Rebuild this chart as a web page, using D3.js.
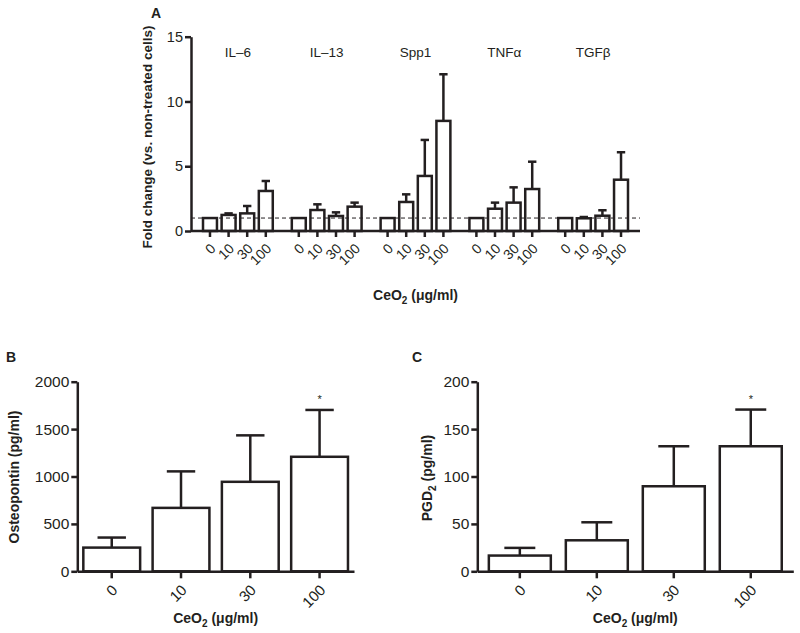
<!DOCTYPE html>
<html>
<head>
<meta charset="utf-8">
<script src="https://cdn.jsdelivr.net/npm/d3@7"></script>
<style>
  html, body { margin: 0; padding: 0; background: #fff; }
  svg { display: block; }
  text { font-family: "Liberation Sans", Arial, Helvetica, sans-serif; fill: #231f20; }
</style>
</head>
<body>
<svg id="chart" width="800" height="633"></svg>
<script>
// ---------------- DATA ----------------
const genes = ["IL\u20136", "IL\u201313", "Spp1", "TNF\u03b1", "TGF\u03b2"];
const doses = ["0", "10", "30", "100"];
// fold change means, one row per gene (doses 0,10,30,100)
const foldIL6  = [1.00, 1.24, 1.36, 3.09];
const foldIL13 = [1.00, 1.62, 1.16, 1.88];
const foldSpp1 = [1.00, 2.24, 4.25, 8.50];
const foldTNFa = [1.00, 1.72, 2.19, 3.24];
const foldTGFb = [1.00, 0.98, 1.18, 3.96];
// upward error (SD) for fold change
const errIL6  = [0, 0.12, 0.57, 0.77];
const errIL13 = [0, 0.44, 0.28, 0.31];
const errSpp1 = [0, 0.59, 2.78, 3.60];
const errTNFa = [0, 0.47, 1.18, 2.11];
const errTGFb = [0, 0.10, 0.42, 2.12];
const foldTicks = [0, 5, 10, 15];
const baselineFold = 1;

// Panel B: osteopontin (pg/ml)
const osteoMean = [250, 669, 944, 1208];
const osteoErr  = [106, 385, 490, 494];
const osteoTicks = [0, 500, 1000, 1500, 2000];
const osteoSig = [false, false, false, true];

// Panel C: PGD2 (pg/ml)
const pgdMean = [16.6, 32.7, 89.7, 131.9];
const pgdErr  = [8.1, 19.0, 42.2, 38.7];
const pgdTicks = [0, 50, 100, 150, 200];
const pgdSig = [false, false, false, true];

const foldMeans = [foldIL6, foldIL13, foldSpp1, foldTNFa, foldTGFb];
const foldErrs  = [errIL6, errIL13, errSpp1, errTNFa, errTGFb];

// ---------------- DRAW ----------------
const ink = "#231f20";
const svg = d3.select("#chart");
svg.append("rect").attr("width", 800).attr("height", 633).attr("fill", "#fff");

function styleAxis(g, fs) {
  g.selectAll(".domain").attr("stroke", ink).attr("stroke-width", 2.5);
  g.selectAll(".tick line").attr("stroke", ink).attr("stroke-width", 2.5);
  g.selectAll(".tick text").attr("fill", ink).style("font-size", (fs || 14) + "px")
    .style("font-family", '"Liberation Sans", Arial, sans-serif');
}

function ceoLabel(g, x, y) {
  const t = g.append("text").attr("x", x).attr("y", y)
    .attr("text-anchor", "middle").style("font-size", "14px").style("font-weight", "bold");
  t.append("tspan").text("CeO");
  t.append("tspan").text("2").style("font-size", "10px").attr("dy", 4);
  t.append("tspan").text(" (\u03bcg/ml)").attr("dy", -4);
}

function rotatedTicks(g, centers, labels, yTop, fs) {
  g.selectAll("text.xt").data(labels).join("text").attr("class", "xt")
    .attr("transform", (d, i) => `translate(${centers[i] + 3},${yTop}) rotate(-45)`)
    .attr("text-anchor", "end").attr("dy", "0.35em")
    .style("font-size", fs + "px").text(d => d);
}

// ===== Panel A =====
{
  const g = svg.append("g");
  const x0 = 191, x1 = 640;
  const y = d3.scaleLinear().domain([0, 15]).range([231, 36.7]);
  const outer = d3.scaleBand().domain(genes).range([x0, x1]).paddingInner(0.162).paddingOuter(0.109);
  const inner = d3.scaleBand().domain(doses).range([0, outer.bandwidth()]).paddingInner(0.25).paddingOuter(0.125);

  const items = [];
  genes.forEach((gn, gi) => doses.forEach((ds, di) => {
    items.push({ gene: gn, dose: ds, mean: foldMeans[gi][di], err: foldErrs[gi][di],
      x: outer(gn) + inner(ds), cx: outer(gn) + inner(ds) + inner.bandwidth() / 2 });
  }));
  const bw = inner.bandwidth();

  const eb = items.filter(d => d.err > 0);
  g.selectAll("line.ev").data(eb).join("line")
    .attr("x1", d => d.cx).attr("x2", d => d.cx)
    .attr("y1", d => y(d.mean)).attr("y2", d => y(d.mean + d.err))
    .attr("stroke", ink).attr("stroke-width", 2.5);
  g.selectAll("line.ec").data(eb).join("line")
    .attr("x1", d => d.cx - bw * 0.3).attr("x2", d => d.cx + bw * 0.3)
    .attr("y1", d => y(d.mean + d.err)).attr("y2", d => y(d.mean + d.err))
    .attr("stroke", ink).attr("stroke-width", 2.5);

  g.selectAll("rect.bar").data(items).join("rect")
    .attr("x", d => d.x).attr("width", bw)
    .attr("y", d => y(d.mean)).attr("height", d => y(0) - y(d.mean))
    .attr("fill", "#fff").attr("stroke", ink).attr("stroke-width", 2.5);

  g.append("line").attr("x1", x0).attr("x2", x1).attr("y1", y(baselineFold)).attr("y2", y(baselineFold))
    .attr("stroke", ink).attr("stroke-width", 1).attr("stroke-dasharray", "4,3");

  const ya = g.append("g").attr("transform", `translate(${x0},0)`)
    .call(d3.axisLeft(y).tickValues(foldTicks).tickFormat(d3.format("d"))
      .tickSize(6).tickSizeOuter(0).tickPadding(2));
  styleAxis(ya, 14.5);
  g.append("line").attr("x1", x0).attr("x2", x1).attr("y1", y(0)).attr("y2", y(0))
    .attr("stroke", ink).attr("stroke-width", 2.5);
  g.selectAll("line.xtick").data(items).join("line")
    .attr("x1", d => d.cx).attr("x2", d => d.cx).attr("y1", y(0)).attr("y2", y(0) + 6)
    .attr("stroke", ink).attr("stroke-width", 2.5);
  rotatedTicks(g, items.map(d => d.cx), items.map(d => d.dose), y(0) + 15, 14);

  g.selectAll("text.gene").data(genes).join("text")
    .attr("x", d => outer(d) + outer.bandwidth() / 2).attr("y", 57)
    .attr("text-anchor", "middle").style("font-size", "13.5px").text(d => d);

  g.append("text").attr("transform", "translate(152,137) rotate(-90)")
    .attr("text-anchor", "middle").style("font-size", "13.5px").style("font-weight", "bold")
    .text("Fold change (vs. non-treated cells)");
  ceoLabel(g, (x0 + x1) / 2, 300);
  g.append("text").attr("x", 151).attr("y", 18).style("font-size", "14px").style("font-weight", "bold").text("A");
}

// ===== Panels B & C =====
function simplePanel(opts) {
  const g = svg.append("g");
  const y = d3.scaleLinear().domain(opts.domain).range([571.3, 381.7]);
  const x = d3.scaleBand().domain(doses).range([opts.x0, opts.x1]).paddingInner(opts.pi).paddingOuter(opts.po);
  const bw = x.bandwidth();
  const data = doses.map((d, i) => ({ dose: d, mean: opts.mean[i], err: opts.err[i], sig: opts.sig[i],
    cx: x(d) + bw / 2 }));

  g.selectAll("line.ev").data(data).join("line")
    .attr("x1", d => d.cx).attr("x2", d => d.cx)
    .attr("y1", d => y(d.mean)).attr("y2", d => y(d.mean + d.err))
    .attr("stroke", ink).attr("stroke-width", 2.5);
  g.selectAll("line.ec").data(data).join("line")
    .attr("x1", d => d.cx - bw * 0.25).attr("x2", d => d.cx + bw * 0.25)
    .attr("y1", d => y(d.mean + d.err)).attr("y2", d => y(d.mean + d.err))
    .attr("stroke", ink).attr("stroke-width", 2.5);
  g.selectAll("rect.bar").data(data).join("rect")
    .attr("x", d => x(d.dose)).attr("width", bw)
    .attr("y", d => y(d.mean)).attr("height", d => y(0) - y(d.mean))
    .attr("fill", "#fff").attr("stroke", ink).attr("stroke-width", 2.5);

  g.selectAll("text.sig").data(data.filter(d => d.sig)).join("text")
    .attr("x", d => d.cx).attr("y", d => y(d.mean + d.err) - 7)
    .attr("text-anchor", "middle").style("font-size", "11px").text("*");

  const ya = g.append("g").attr("transform", `translate(${opts.x0},0)`)
    .call(d3.axisLeft(y).tickValues(opts.ticks).tickFormat(d3.format("d"))
      .tickSize(6).tickSizeOuter(0).tickPadding(2));
  styleAxis(ya, 15.5);
  const xa = g.append("g").attr("transform", `translate(0,${y(0)})`)
    .call(d3.axisBottom(x).tickSize(7).tickSizeOuter(0).tickFormat(""));
  styleAxis(xa);
  rotatedTicks(g, data.map(d => d.cx), doses, y(0) + 16, 15);

  ceoLabel(g, (opts.x0 + opts.x1) / 2, 623);
  opts.yTitle(g);
  g.append("text").attr("x", opts.letterX).attr("y", 362).style("font-size", "14px")
    .style("font-weight", "bold").text(opts.letter);
}

simplePanel({
  domain: [0, 2000], ticks: osteoTicks, mean: osteoMean, err: osteoErr, sig: osteoSig,
  x0: 77.3, x1: 354, pi: 0.18, po: 0.087, letter: "B", letterX: 6,
  yTitle: g => g.append("text").attr("transform", "translate(19,477) rotate(-90)")
    .attr("text-anchor", "middle").style("font-size", "14px").style("font-weight", "bold")
    .text("Osteopontin (pg/ml)")
});

simplePanel({
  domain: [0, 200], ticks: pgdTicks, mean: pgdMean, err: pgdErr, sig: pgdSig,
  x0: 477.3, x1: 793.3, pi: 0.195, po: 0.15, letter: "C", letterX: 412,
  yTitle: g => {
    const t = g.append("text").attr("transform", "translate(432,478) rotate(-90)")
      .attr("text-anchor", "middle").style("font-size", "14px").style("font-weight", "bold");
    t.append("tspan").text("PGD");
    t.append("tspan").text("2").style("font-size", "10px").attr("dy", 4);
    t.append("tspan").text(" (pg/ml)").attr("dy", -4);
  }
});
</script>
</body>
</html>
